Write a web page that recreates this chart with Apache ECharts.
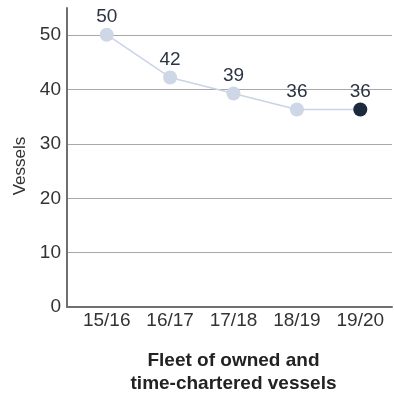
<!DOCTYPE html>
<html>
<head>
<meta charset="utf-8">
<script src="https://cdn.jsdelivr.net/npm/echarts@6/dist/echarts.min.js"></script>
<style>
  html, body { margin: 0; padding: 0; background: #fff; }
  #chart { width: 394px; height: 400px; }
</style>
</head>
<body>
<div id="chart"></div>
<script>
// Fleet size per fiscal year
const years = ['15/16', '16/17', '17/18', '18/19', '19/20'];
const vessels = [50, 42, 39, 36, 36];
const yTicks = { min: 0, max: 55, interval: 10 };

const FONT = '"Liberation Sans", Arial, Helvetica, sans-serif';
const lightDot = '#cdd7e6';
const darkDot = '#1b2a3d';

const chart = echarts.init(document.getElementById('chart'), null, { renderer: 'canvas' });

chart.setOption({
  animation: false,
  grid: [
    { left: 67, right: 2, top: 8, bottom: 93 },
    { left: 75, right: 2, top: 8, bottom: 93 }
  ],
  xAxis: [
    {
      gridIndex: 0,
      type: 'value',
      min: 0, max: 1,
      axisLine: { show: true, onZero: false, lineStyle: { color: '#707070', width: 2 } },
      axisTick: { show: false },
      axisLabel: { show: false },
      splitLine: { show: false }
    },
    {
      gridIndex: 1,
      type: 'category',
      data: years,
      boundaryGap: true,
      axisLine: { show: false },
      axisTick: { show: false },
      axisLabel: { fontFamily: FONT, fontSize: 19, color: '#333', margin: 9 },
      name: 'Fleet of owned and\ntime-chartered vessels',
      nameLocation: 'middle',
      nameGap: 47,
      nameTextStyle: {
        fontFamily: FONT, fontSize: 19, fontWeight: 'bold',
        color: '#222', lineHeight: 23, align: 'center'
      }
    }
  ],
  yAxis: [
    {
      gridIndex: 0,
      type: 'value',
      min: yTicks.min, max: yTicks.max, interval: yTicks.interval,
      axisLine: { show: true, lineStyle: { color: '#707070', width: 2 } },
      axisTick: { show: false },
      axisLabel: { fontFamily: FONT, fontSize: 19, color: '#333', margin: 6, showMaxLabel: false },
      splitLine: { show: true, showMaxLine: false, showMinLine: false, lineStyle: { color: '#a8a8a8', width: 1 } },
      name: 'Vessels',
      nameLocation: 'middle',
      nameGap: 36,
      nameRotate: 90,
      nameTextStyle: { fontFamily: FONT, fontSize: 17, color: '#333', padding: [0, 17, 0, 0] }
    },
    {
      gridIndex: 1,
      type: 'value',
      min: yTicks.min, max: yTicks.max, interval: yTicks.interval,
      show: false
    }
  ],
  series: [{
    type: 'line',
    xAxisIndex: 1,
    yAxisIndex: 1,
    data: vessels.map((v, i) => ({
      value: v,
      itemStyle: { color: i === vessels.length - 1 ? darkDot : lightDot }
    })),
    symbol: 'circle',
    symbolSize: 14,
    lineStyle: { color: '#c8d4e7', width: 1.5 },
    itemStyle: { color: lightDot },
    label: {
      show: true,
      position: 'top',
      distance: 1,
      fontFamily: FONT,
      fontSize: 19,
      color: '#2b3442'
    }
  }]
});
</script>
</body>
</html>
